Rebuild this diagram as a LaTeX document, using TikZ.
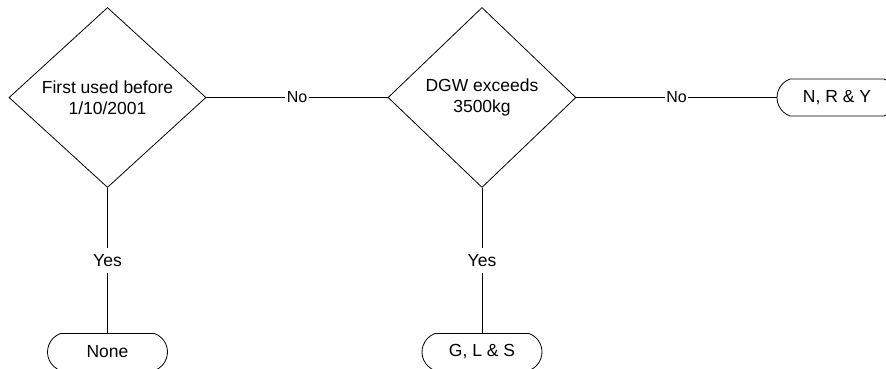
\documentclass[tikz,border=0pt]{standalone}
\usepackage{fontspec}
\setmainfont{Liberation Sans}
\usetikzlibrary{shapes.geometric,shapes.misc}
\begin{document}
\begin{tikzpicture}[x=1pt,y=-1pt,
  every node/.style={font=\fontsize{17.5}{21}\selectfont},
  decision/.style={draw,shape=diamond,inner sep=0pt,align=center,line width=0.8pt},
  terminal/.style={draw,rounded rectangle,rounded rectangle arc length=140,minimum width=120pt,minimum height=37pt,inner sep=0pt,line width=0.8pt},
  lbl/.style={fill=white,inner xsep=1.5pt,inner ysep=6pt},
  nolbl/.style={lbl,font=\fontsize{16}{18}\selectfont},
  yeslbl/.style={lbl,font=\fontsize{17.5}{20}\selectfont},
  conn/.style={line width=0.8pt}]
\useasboundingbox (0,0) rectangle (886,368);
\node[decision,minimum width=197pt,minimum height=180pt] (d1) at (107.5,97.5) {First used before\\1/10/2001};
\node[decision,minimum width=188pt,minimum height=180pt] (d2) at (482,97.5) {DGW exceeds\\3500kg};
\node[terminal] (t1) at (107.5,352) {None};
\node[terminal] (t2) at (482,352) {G, L \& S};
\node[terminal] (t3) at (837,97.5) {N, R \& Y};
\draw[conn] (d1.east) -- node[nolbl] {No} (d2.west);
\draw[conn] (d2.east) -- node[nolbl] {No} (t3.west);
\draw[conn] (d1.south) -- node[yeslbl] {Yes} (t1.north);
\draw[conn] (d2.south) -- node[yeslbl] {Yes} (t2.north);
\end{tikzpicture}
\end{document}
